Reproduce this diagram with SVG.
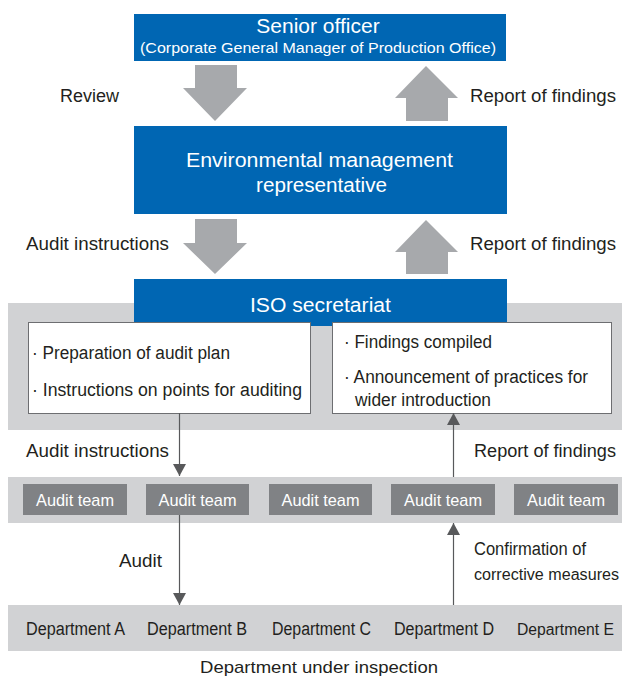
<svg xmlns="http://www.w3.org/2000/svg" width="624" height="676" viewBox="0 0 624 676">
<defs>
<style>
text{font-family:"Liberation Sans",Arial,sans-serif;fill:#231f20}
.w{fill:#ffffff}
.blue{fill:#0066b3}
.band{fill:#d1d2d4}
.team{fill:#808285}
.box{fill:#ffffff;stroke:#6d6e71;stroke-width:1}
.big{fill:#a7a9ac}
.ln{stroke:#58595b;stroke-width:1.2;fill:none}
.ah{fill:#58595b}
.lbl{font-size:18px}
.cnd{font-size:18px}
.tm{font-size:17px;fill:#ffffff}
</style>
<marker id="arr" viewBox="0 0 12 13" refX="12" refY="6.5" markerWidth="12" markerHeight="13" markerUnits="userSpaceOnUse" orient="auto">
<path d="M0,0 L12,6.5 L0,13 Z" class="ah"/>
</marker>
</defs>

<g id="bands">
<rect class="band" x="8" y="303" width="614" height="127"/>
<rect class="band" x="8" y="477" width="614" height="46"/>
<rect class="band" x="8" y="605" width="614" height="46"/>
</g>

<g id="senior-officer">
<rect class="blue" x="134" y="14" width="372" height="47"/>
<text class="w" x="318" y="33" font-size="21" text-anchor="middle">Senior officer</text>
<text class="w" x="140" y="53" font-size="15" textLength="356" lengthAdjust="spacingAndGlyphs">(Corporate General Manager of Production Office)</text>
</g>

<g id="env-rep">
<rect class="blue" x="134" y="126" width="373" height="88"/>
<text class="w" x="186" y="167" font-size="20" textLength="267" lengthAdjust="spacingAndGlyphs">Environmental management</text>
<text class="w" x="256" y="192" font-size="20" textLength="131" lengthAdjust="spacingAndGlyphs">representative</text>
</g>

<g id="iso-secretariat">
<rect class="blue" x="134" y="279" width="373" height="47"/>
<text class="w" x="250" y="312" font-size="20" textLength="141" lengthAdjust="spacingAndGlyphs">ISO secretariat</text>
</g>

<g id="plan-box">
<rect class="box" x="28.5" y="322.5" width="282" height="91"/>
<text class="cnd" x="32" y="359" textLength="198" lengthAdjust="spacingAndGlyphs">· Preparation of audit plan</text>
<text class="cnd" x="32" y="396" textLength="270" lengthAdjust="spacingAndGlyphs">· Instructions on points for auditing</text>
</g>

<g id="findings-box">
<rect class="box" x="332.5" y="322.5" width="279" height="91"/>
<text class="cnd" x="344" y="348" textLength="148" lengthAdjust="spacingAndGlyphs">· Findings compiled</text>
<text class="cnd" x="344" y="383" textLength="244" lengthAdjust="spacingAndGlyphs">· Announcement of practices for</text>
<text class="cnd" x="355" y="406" textLength="136" lengthAdjust="spacingAndGlyphs">wider introduction</text>
</g>

<g id="audit-teams">
<rect class="team" x="23" y="484" width="104" height="31"/>
<text class="tm" x="75" y="506" text-anchor="middle" textLength="78" lengthAdjust="spacingAndGlyphs">Audit team</text>
<rect class="team" x="146" y="484" width="103" height="31"/>
<text class="tm" x="197.5" y="506" text-anchor="middle" textLength="78" lengthAdjust="spacingAndGlyphs">Audit team</text>
<rect class="team" x="269" y="484" width="103" height="31"/>
<text class="tm" x="320.5" y="506" text-anchor="middle" textLength="78" lengthAdjust="spacingAndGlyphs">Audit team</text>
<rect class="team" x="391" y="484" width="104" height="31"/>
<text class="tm" x="443" y="506" text-anchor="middle" textLength="78" lengthAdjust="spacingAndGlyphs">Audit team</text>
<rect class="team" x="514" y="484" width="104" height="31"/>
<text class="tm" x="566" y="506" text-anchor="middle" textLength="78" lengthAdjust="spacingAndGlyphs">Audit team</text>
</g>

<g id="departments">
<text class="cnd" x="26" y="635" textLength="99" lengthAdjust="spacingAndGlyphs">Department A</text>
<text class="cnd" x="147" y="635" textLength="100" lengthAdjust="spacingAndGlyphs">Department B</text>
<text class="cnd" x="272" y="635" textLength="99" lengthAdjust="spacingAndGlyphs">Department C</text>
<text class="cnd" x="394" y="635" textLength="100" lengthAdjust="spacingAndGlyphs">Department D</text>
<text x="517" y="635" font-size="16" textLength="97" lengthAdjust="spacingAndGlyphs">Department E</text>
<text x="200" y="673" font-size="17" textLength="238" lengthAdjust="spacingAndGlyphs">Department under inspection</text>
</g>

<g id="connectors">
<polygon class="big" points="195,65 237,65 237,88 247,88 215,121 183,88 195,88"/>
<polygon class="big" points="426,66 458,98 448,98 448,121 406,121 406,98 395,98"/>
<polygon class="big" points="195,219 237,219 237,243 247,243 215,274 183,243 195,243"/>
<polygon class="big" points="426,220 458,252 448,252 448,274 406,274 406,252 395,252"/>
<line class="ln" x1="179.5" y1="413" x2="179.5" y2="476" marker-end="url(#arr)"/>
<line class="ln" x1="179.5" y1="515" x2="179.5" y2="605" marker-end="url(#arr)"/>
<line class="ln" x1="453.5" y1="477" x2="453.5" y2="413" marker-end="url(#arr)"/>
<line class="ln" x1="453.5" y1="605" x2="453.5" y2="523" marker-end="url(#arr)"/>
</g>

<g id="labels">
<text class="lbl" x="60" y="102" textLength="59" lengthAdjust="spacingAndGlyphs">Review</text>
<text class="lbl" x="470" y="102" textLength="146" lengthAdjust="spacingAndGlyphs">Report of findings</text>
<text class="lbl" x="26" y="250" textLength="143" lengthAdjust="spacingAndGlyphs">Audit instructions</text>
<text class="lbl" x="470" y="250" textLength="146" lengthAdjust="spacingAndGlyphs">Report of findings</text>
<text class="lbl" x="26" y="457" textLength="143" lengthAdjust="spacingAndGlyphs">Audit instructions</text>
<text class="lbl" x="474" y="457" textLength="142" lengthAdjust="spacingAndGlyphs">Report of findings</text>
<text class="lbl" x="119" y="567" textLength="43" lengthAdjust="spacingAndGlyphs">Audit</text>
<text class="lbl" x="474" y="555" font-size="17" textLength="112" lengthAdjust="spacingAndGlyphs">Confirmation of</text>
<text x="474" y="580" font-size="16" textLength="145" lengthAdjust="spacingAndGlyphs">corrective measures</text>
</g>
</svg>
